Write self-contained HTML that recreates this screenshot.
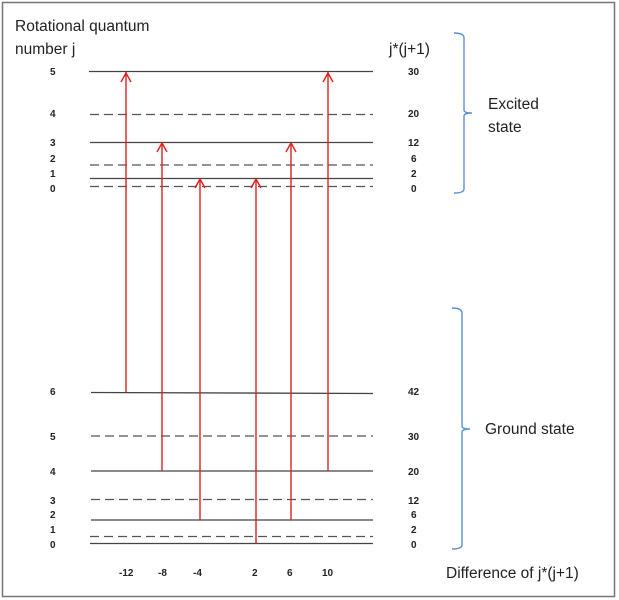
<!DOCTYPE html>
<html><head><meta charset="utf-8"><style>
body{margin:0;background:#fff}
svg{display:block}
.n{font-family:"Liberation Sans",sans-serif;font-size:10px;font-weight:bold;fill:#222}
.t{font-family:"Liberation Sans",sans-serif;font-size:15.5px;fill:#222}
</style></head><body>
<svg width="619" height="600" viewBox="0 0 619 600" xmlns="http://www.w3.org/2000/svg">
<rect x="2.5" y="2.5" width="612" height="594" fill="#fff" stroke="#777" stroke-width="1.5"/>
<text class="t" x="15" y="31">Rotational quantum</text>
<text class="t" x="15" y="54">number  j</text>
<text class="t" x="389" y="54">j*(j+1)</text>
<g stroke="#444" stroke-width="1.3" fill="none">
<line x1="89" y1="71.5" x2="373" y2="71.5"/>
<line x1="90" y1="142.5" x2="373" y2="142.5"/>
<line x1="90" y1="178.5" x2="373" y2="178.5"/>
<line x1="91" y1="392.5" x2="373" y2="393.5"/>
<line x1="91" y1="471" x2="373" y2="471"/>
<line x1="91" y1="520" x2="373" y2="520"/>
<line x1="90" y1="543.5" x2="373" y2="543.5"/>
</g>
<g stroke="#555" stroke-width="1.3" fill="none" stroke-dasharray="9,5">
<line x1="90" y1="114.5" x2="373" y2="114.5"/>
<line x1="90" y1="165" x2="373" y2="165"/>
<line x1="90" y1="186.5" x2="373" y2="186.5"/>
<line x1="91" y1="436" x2="373" y2="436"/>
<line x1="91" y1="499.5" x2="373" y2="499.5"/>
<line x1="90" y1="536.5" x2="373" y2="536.5"/>
</g>
<g stroke="#e02020" stroke-width="1.4" fill="none">
<line x1="126" y1="392" x2="126" y2="72"/><polyline points="121,82 126,73 131,82"/>
<line x1="162" y1="471" x2="162" y2="143"/><polyline points="157,152 162,143 167,152"/>
<line x1="200" y1="520" x2="200" y2="179"/><polyline points="195,188 200,179 205,188"/>
<line x1="256" y1="543" x2="256" y2="179"/><polyline points="251,188 256,179 261,188"/>
<line x1="291" y1="520" x2="291" y2="143"/><polyline points="286,152 291,143 296,152"/>
<line x1="328" y1="471" x2="328" y2="72"/><polyline points="323,82 328,73 333,82"/>
</g>
<g class="n">
<text x="50" y="75">5</text><text x="50" y="117">4</text><text x="50" y="146">3</text><text x="50" y="162">2</text><text x="50" y="177">1</text><text x="50" y="192">0</text>
<text x="408" y="75">30</text><text x="408" y="117">20</text><text x="408" y="146">12</text><text x="411" y="162">6</text><text x="411" y="177">2</text><text x="411" y="192">0</text>
<text x="50" y="395">6</text><text x="50" y="440">5</text><text x="50" y="475">4</text><text x="50" y="504">3</text><text x="50" y="518">2</text><text x="50" y="533">1</text><text x="50" y="548">0</text>
<text x="408" y="395">42</text><text x="408" y="440">30</text><text x="408" y="475">20</text><text x="408" y="504">12</text><text x="411" y="518">6</text><text x="411" y="533">2</text><text x="411" y="548">0</text>
<text x="119" y="576">-12</text><text x="158" y="576">-8</text><text x="193" y="576">-4</text><text x="252" y="576">2</text><text x="287" y="576">6</text><text x="322" y="576">10</text>
</g>
<g stroke="#5b8fd4" stroke-width="1.4" fill="none">
<path d="M454,33 Q464,33 464,38 L464,110 Q464,113 472,113 Q464,113 464,116 L464,189 Q464,193 454,193"/>
<path d="M452,308 Q462,308 462,313 L462,426 Q462,429 470,429 Q462,429 462,432 L462,545 Q462,549 452,549"/>
</g>
<text class="t" x="488" y="109">Excited</text>
<text class="t" x="488" y="132">state</text>
<text class="t" x="485" y="434">Ground state</text>
<text class="t" x="446" y="578">Difference of  j*(j+1)</text>
</svg>
</body></html>
